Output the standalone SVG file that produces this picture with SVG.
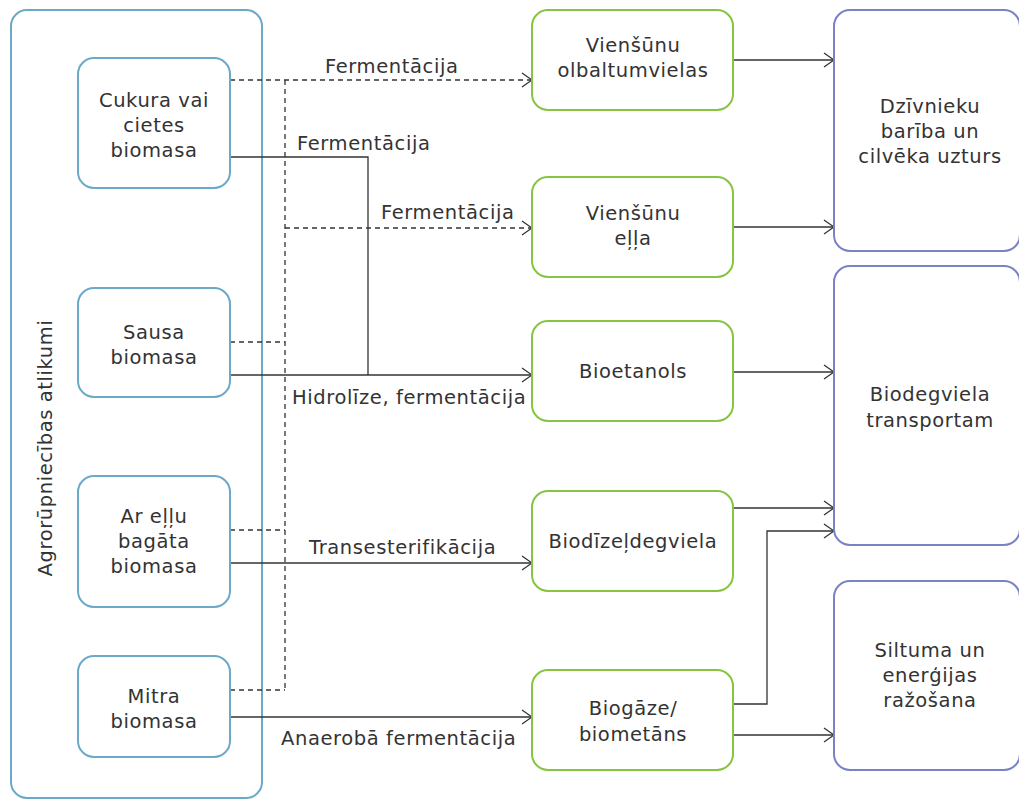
<svg xmlns="http://www.w3.org/2000/svg" width="1019" height="800" viewBox="0 0 1019 800">
  <defs>
    <style>
      text { font-family: "DejaVu Sans", "Liberation Sans", sans-serif; font-size: 19.5px; fill: #333; text-anchor: middle; letter-spacing: 0.6px; }
      .frame { fill: #fff; stroke: #6aa9c7; stroke-width: 2; }
      .src { fill: #fff; stroke: #6aa9c7; stroke-width: 2; }
      .prod { fill: #fff; stroke: #86c442; stroke-width: 2; }
      .use { fill: #fff; stroke: #7a82c6; stroke-width: 2; }
      .ln { fill: none; stroke: #333; stroke-width: 1.3; }
      .dash { stroke-dasharray: 5 4; }
      .lbl { text-anchor: start; }
    </style>
    <marker id="arr" viewBox="0 0 12 16" refX="11" refY="8" markerWidth="12" markerHeight="16" markerUnits="userSpaceOnUse" orient="auto">
      <path d="M1,1 L11,8 L1,15" fill="none" stroke="#333" stroke-width="1.3"/>
    </marker>
  </defs>

  <!-- outer frame with vertical title -->
  <g id="frame">
    <rect class="frame" x="11" y="10" width="251" height="788" rx="16"/>
    <text transform="translate(52,448) rotate(-90)">Agrorūpniecības atlikumi</text>
  </g>

  <!-- connectors -->
  <g id="connectors">
    <!-- dashed routes -->
    <path class="ln dash" d="M230,80 H532" marker-end="url(#arr)"/>
    <path class="ln dash" d="M285,80 V690"/>
    <path class="ln dash" d="M285,228 H532" marker-end="url(#arr)"/>
    <path class="ln dash" d="M230,342 H285"/>
    <path class="ln dash" d="M230,530 H285"/>
    <path class="ln dash" d="M230,690 H285"/>
    <!-- solid routes -->
    <path class="ln" d="M230,157 H368 V375"/>
    <path class="ln" d="M230,375 H532" marker-end="url(#arr)"/>
    <path class="ln" d="M230,563 H532" marker-end="url(#arr)"/>
    <path class="ln" d="M230,717 H532" marker-end="url(#arr)"/>
    <path class="ln" d="M733,60 H834" marker-end="url(#arr)"/>
    <path class="ln" d="M733,227 H834" marker-end="url(#arr)"/>
    <path class="ln" d="M733,372 H834" marker-end="url(#arr)"/>
    <path class="ln" d="M733,508 H834" marker-end="url(#arr)"/>
    <path class="ln" d="M733,704 H767 V531 H834" marker-end="url(#arr)"/>
    <path class="ln" d="M733,735 H834" marker-end="url(#arr)"/>
    <!-- process labels -->
    <text class="lbl" x="325" y="73">Fermentācija</text>
    <text class="lbl" x="297" y="150">Fermentācija</text>
    <text class="lbl" x="381" y="219">Fermentācija</text>
    <text class="lbl" x="292" y="404">Hidrolīze, fermentācija</text>
    <text class="lbl" x="309" y="554">Transesterifikācija</text>
    <text class="lbl" x="281" y="745">Anaerobā fermentācija</text>
  </g>

  <!-- source biomass -->
  <g id="src-cukurs">
    <rect class="src" x="78" y="58" width="152" height="130" rx="16"/>
    <text x="154" y="107">Cukura vai</text>
    <text x="154" y="132">cietes</text>
    <text x="154" y="157">biomasa</text>
  </g>
  <g id="src-sausa">
    <rect class="src" x="78" y="288" width="152" height="109" rx="16"/>
    <text x="154" y="339">Sausa</text>
    <text x="154" y="364">biomasa</text>
  </g>
  <g id="src-ella">
    <rect class="src" x="78" y="476" width="152" height="131" rx="16"/>
    <text x="154" y="523">Ar eļļu</text>
    <text x="154" y="548">bagāta</text>
    <text x="154" y="573">biomasa</text>
  </g>
  <g id="src-mitra">
    <rect class="src" x="78" y="656" width="152" height="101" rx="16"/>
    <text x="154" y="703">Mitra</text>
    <text x="154" y="728">biomasa</text>
  </g>

  <!-- products -->
  <g id="prod-olb">
    <rect class="prod" x="532" y="10" width="201" height="100" rx="16"/>
    <text x="633" y="52">Vienšūnu</text>
    <text x="633" y="77">olbaltumvielas</text>
  </g>
  <g id="prod-ella">
    <rect class="prod" x="532" y="177" width="201" height="100" rx="16"/>
    <text x="633" y="220">Vienšūnu</text>
    <text x="633" y="245">eļļa</text>
  </g>
  <g id="prod-etanols">
    <rect class="prod" x="532" y="321" width="201" height="100" rx="16"/>
    <text x="633" y="378">Bioetanols</text>
  </g>
  <g id="prod-dizelis">
    <rect class="prod" x="532" y="491" width="201" height="100" rx="16"/>
    <text x="633" y="548">Biodīzeļdegviela</text>
  </g>
  <g id="prod-biogaze">
    <rect class="prod" x="532" y="670" width="201" height="100" rx="16"/>
    <text x="633" y="715">Biogāze/</text>
    <text x="633" y="741">biometāns</text>
  </g>

  <!-- end uses -->
  <g id="use-barība">
    <rect class="use" x="834" y="10" width="186" height="241" rx="16"/>
    <text x="930" y="113">Dzīvnieku</text>
    <text x="930" y="138">barība un</text>
    <text x="930" y="163">cilvēka uzturs</text>
  </g>
  <g id="use-transports">
    <rect class="use" x="834" y="266" width="186" height="279" rx="16"/>
    <text x="930" y="401">Biodegviela</text>
    <text x="930" y="427">transportam</text>
  </g>
  <g id="use-energija">
    <rect class="use" x="834" y="581" width="186" height="189" rx="16"/>
    <text x="930" y="657">Siltuma un</text>
    <text x="930" y="682">enerģijas</text>
    <text x="930" y="707">ražošana</text>
  </g>
</svg>
